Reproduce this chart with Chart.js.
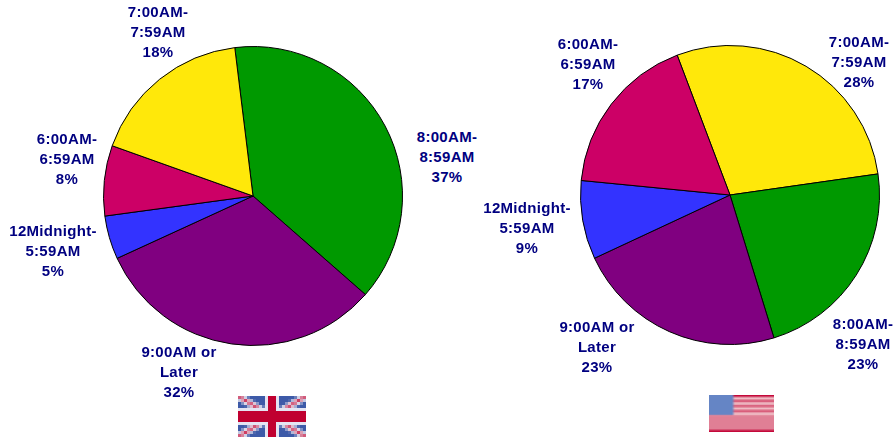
<!DOCTYPE html>
<html><head><meta charset="utf-8">
<script src="https://cdn.jsdelivr.net/npm/chart.js@4"></script>
<style>
html,body{margin:0;padding:0;background:#fff;width:896px;height:438px;overflow:hidden}
canvas{position:absolute}
.lbl{position:absolute;transform:translateX(-50%);text-align:center;white-space:nowrap;font:bold 15px/20px "Liberation Sans",Arial,sans-serif;letter-spacing:.3px;color:#000080}
</style></head><body>
<canvas id="uk" width="320" height="320" style="left:93px;top:36px"></canvas>
<canvas id="us" width="320" height="320" style="left:570px;top:35px"></canvas>
<canvas id="ukflag" width="23" height="14" style="left:238px;top:396px;width:68px;height:41px;image-rendering:pixelated"></canvas>
<canvas id="usflag" width="44" height="26" style="left:709px;top:395px;width:65px;height:37px"></canvas>
<script>
const categories = ['8:00AM-\n8:59AM','9:00AM or\nLater','12Midnight-\n5:59AM','6:00AM-\n6:59AM','7:00AM-\n7:59AM'];
const ukLabels = ['37%','32%','5%','8%','18%'];
const usLabels = ['23%','23%','9%','17%','28%'];
const ukValues = [38.4,31.7,4.7,7.6,17.6];
const usValues = [22.5,22.8,8.5,17.7,28.5];
const sliceColors = ['#009900','#800080','#3333FF','#CC0066','#FFE80A'];
// slice order for the US pie starts at yellow, clockwise
const usOrder = [4,0,1,2,3];

function pie(id, order, values, rotation){
  new Chart(document.getElementById(id),{
    type:'pie',
    data:{labels:order.map(i=>categories[i]),
      datasets:[{data:order.map(i=>values[i]),
        backgroundColor:order.map(i=>sliceColors[i]),
        borderColor:'#000',borderWidth:1,borderAlign:'center'}]},
    options:{responsive:false,animation:false,rotation,radius:149.5,
      layout:{padding:0},
      plugins:{legend:{display:false},tooltip:{enabled:false}}}
  });
}
pie('uk',[0,1,2,3,4],ukValues,-7);
pie('us',usOrder,usValues,-20.7);

// label anchor points (centre x, top y) by category index
const ukAnchors = [[447,127],[179,342],[53,221],[67,129],[158,2]];
const usAnchors = [[863,314],[597,317],[527,198],[588,34],[859,32]];
function addLabels(anchors, pct){
  anchors.forEach((a,i)=>{
    const d=document.createElement('div');
    d.className='lbl';
    d.style.left=a[0]+'px';d.style.top=a[1]+'px';
    d.innerHTML=categories[i].split('\n').join('<br>')+'<br>'+pct[i];
    document.body.appendChild(d);
  });
}
addLabels(ukAnchors,ukLabels);
addLabels(usAnchors,usLabels);

// UK flag
(function(){
  const c=document.getElementById('ukflag').getContext('2d');
  c.fillStyle='#3d5aa8';c.fillRect(0,0,23,14);
  c.strokeStyle='#e8e4ee';c.lineWidth=2.4;
  c.beginPath();c.moveTo(0,0);c.lineTo(23,14);c.moveTo(23,0);c.lineTo(0,14);c.stroke();
  c.strokeStyle='#c8264f';c.lineWidth=.9;
  c.beginPath();c.moveTo(0,0);c.lineTo(23,14);c.moveTo(23,0);c.lineTo(0,14);c.stroke();
  c.fillStyle='#e4e4f2';c.fillRect(9,0,5,14);c.fillRect(0,4,23,6);
  c.fillStyle='#c00030';c.fillRect(10,0,3,14);c.fillRect(0,5,23,4);
})();
// US flag
(function(){
  const c=document.getElementById('usflag').getContext('2d');
  c.fillStyle='#e07f95';c.fillRect(0,0,44,26);
  c.fillStyle='#c4093a';c.fillRect(0,0,44,1.5);c.fillRect(0,24.5,44,1.5);
  ['#f0c0c8','#d85a78','#f0c0c8','#d85a78','#f0c0c8','#d85a78','#f0c0c8'].forEach((k,i)=>{
    c.fillStyle=k;c.fillRect(0,1.5+i*1.8,44,1.8);
  });
  c.fillStyle='#6585c5';c.fillRect(0,0,16.5,14);
})();
</script>
</body></html>
